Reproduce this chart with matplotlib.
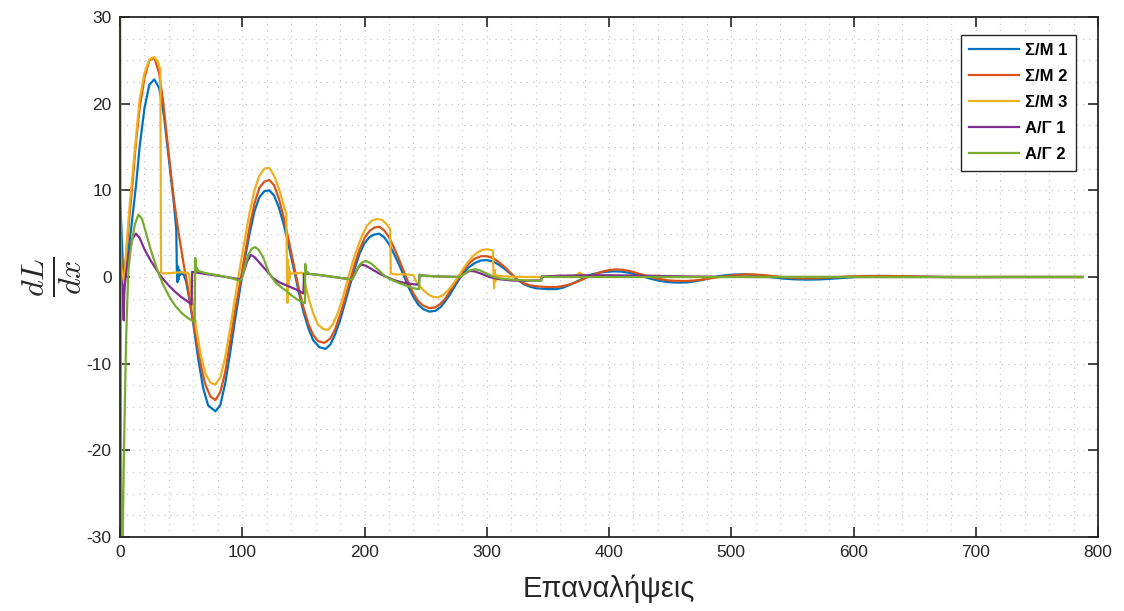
import matplotlib
matplotlib.use("Agg")
import matplotlib.pyplot as plt
from matplotlib.ticker import MultipleLocator

# ---- data (iteration, dL/dx) ----
sm1_x = [0, 1, 2, 3, 4, 6, 9, 11, 13, 16, 20, 24, 28, 32, 36, 40, 44, 46,
         46.5, 47, 47.5, 48, 48.5, 49, 50, 52, 54, 57, 60, 64, 68, 72, 78, 82, 86, 90, 94, 98,
         102, 106, 110, 114, 118, 122, 126, 130, 134, 138, 142, 146, 150, 154, 158, 163,
         168, 172, 176, 180, 184, 188, 192, 196, 200, 204, 208, 212, 216, 220, 224, 228,
         232, 236, 240, 244, 248, 253, 258, 262, 266, 270, 275, 280, 285, 290, 295, 300,
         305, 310, 315, 320, 325, 330, 335, 340, 345, 350, 357, 362, 368, 374, 380, 386,
         392, 398, 404, 410, 416, 422, 428, 434, 440, 446, 452, 458, 464, 470, 476, 482,
         488, 495, 502, 510, 518, 526, 534, 542, 552, 562, 572, 582, 592, 602, 615, 630,
         645, 660, 680, 700, 730, 787]
sm1_y = [8.5, 6.0, 2.4, -2.5, 0.0, 2.0, 5.5, 8.0, 10.5, 15.0, 19.5, 22.2, 22.8, 21.8,
         18.5, 13.5, 8.5, 5.5,
         0.5, -0.6, 1.2, -0.3, 0.8, 0.2, 0.4, 0.3, -0.5, -2.8, -5.5, -9.5, -12.8, -14.8,
         -15.5, -14.8, -12.3, -8.8, -5.0, -1.5,
         2.0, 5.0, 7.6, 9.2, 9.9, 10.0, 9.4, 8.0, 6.0, 3.6, 1.0, -1.6, -4.0, -5.9, -7.3,
         -8.1, -8.3, -7.8, -6.6, -5.0, -3.0, -1.0, 1.0, 2.7, 3.9, 4.6, 4.9, 5.0, 4.6, 3.8,
         2.7, 1.5, 0.2, -1.2, -2.3, -3.2, -3.7, -4.0, -3.9, -3.5, -2.8, -2.0, -0.8, 0.3,
         1.1, 1.6, 1.9, 1.95, 1.8, 1.4, 0.9, 0.3, -0.3, -0.8, -1.1, -1.3, -1.35, -1.4, -1.4,
         -1.25, -0.9, -0.5, -0.1, 0.3, 0.5, 0.6, 0.65, 0.62, 0.5, 0.3, 0.05, -0.2, -0.4,
         -0.55, -0.63, -0.65, -0.62, -0.5, -0.35, -0.15, 0.05, 0.2, 0.28, 0.3, 0.25, 0.12,
         -0.05, -0.18, -0.27, -0.3, -0.28, -0.2, -0.1, 0.0, 0.08, 0.1, 0.07, 0.02, -0.02,
         -0.02, 0.0, 0.0]

sm2_x = [0, 1, 2, 3, 5, 8, 10, 13, 16, 20, 24, 28, 32, 35, 40, 44, 48, 52, 55, 58, 61,
         64, 67, 70, 74, 78, 82, 86, 90, 94, 98, 102, 106, 110, 114, 118, 122, 126, 130,
         134, 138, 142, 146, 150, 154, 158, 162, 167, 172, 176, 180, 184, 188, 192, 196,
         200, 204, 208, 212, 216, 220, 224, 228, 232, 236, 240, 244, 248, 253, 258, 262,
         266, 270, 275, 280, 285, 290, 295, 300, 305, 310, 315, 320, 325, 330, 335, 340,
         345, 350, 357, 362, 368, 374, 382, 388, 394, 400, 406, 412, 418, 424, 430, 436,
         442, 448, 454, 463, 470, 476, 482, 488, 495, 502, 512, 520, 528, 536, 544, 552,
         560, 568, 578, 588, 598, 610, 625, 640, 655, 670, 690, 720, 787]
sm2_y = [6.5, 1.5, 0.3, 0.2, 2.5, 7.5, 10.5, 15.5, 19.5, 23.0, 25.0, 25.3, 23.5, 20.5,
         14.0, 9.0, 5.0, 1.5, -0.8, -3.5, -6.0, -8.5, -10.8, -12.5, -13.8, -14.2, -13.3,
         -11.0, -7.5, -4.0, -0.8, 2.5, 5.8, 8.5, 10.3, 11.0, 11.2, 10.6, 9.0, 6.8, 4.2,
         1.5, -1.2, -3.5, -5.4, -6.7, -7.4, -7.6, -7.1, -6.0, -4.4, -2.5, -0.5, 1.5, 3.2,
         4.5, 5.3, 5.7, 5.8, 5.4, 4.6, 3.4, 2.1, 0.7, -0.7, -1.9, -2.8, -3.3, -3.6, -3.5,
         -3.1, -2.5, -1.6, -0.5, 0.6, 1.5, 2.1, 2.4, 2.4, 2.2, 1.7, 1.1, 0.4, -0.3, -0.7,
         -0.95, -1.05, -1.12, -1.15, -1.15, -1.05, -0.85, -0.55, -0.05, 0.3, 0.6, 0.8, 0.88,
         0.82, 0.65, 0.4, 0.15, -0.08, -0.25, -0.38, -0.44, -0.46, -0.4, -0.3, -0.17, -0.03,
         0.1, 0.2, 0.3, 0.28, 0.2, 0.08, -0.04, -0.12, -0.16, -0.15, -0.08, 0.0, 0.07, 0.12,
         0.13, 0.1, 0.05, 0.01, -0.01, 0.0, 0.0]

sm3_x = [0, 1, 2, 3, 4, 5, 8, 10, 13, 16, 20, 24, 28, 31, 33, 33.5, 35, 40, 45, 50, 55,
         56.5, 58, 60, 63, 66, 70, 74, 78, 82, 86, 90, 94, 98, 102, 106, 110, 114, 118,
         122, 126, 130, 134, 136, 136.6, 137, 137.3, 137.6, 138, 138.5, 139, 140, 145,
         149, 150, 152, 155, 158, 162, 166, 170, 174, 178, 182, 186, 190, 194, 198, 202,
         206, 210, 214, 218, 221, 221.5, 225, 230, 235, 240, 242, 245, 248, 252, 256, 260,
         264, 268, 272, 276, 280, 284, 288, 292, 296, 300, 304, 305, 305.5, 306, 306.5,
         307, 308, 310, 320, 330, 345, 360, 372, 376, 380, 400, 450, 550, 787]
sm3_y = [6.2, 1.0, 0.3, -0.8, 0.5, 3.0, 8.5, 11.5, 16.0, 20.5, 23.5, 25.1, 25.4, 24.8,
         23.9, 0.6, 0.4, 0.45, 0.5, 0.55, 0.5, 0.3, -1.5, -3.5, -6.5, -9.0, -11.2, -12.2,
         -12.4, -11.6, -9.3, -6.0, -2.5, 1.0, 4.3, 7.5, 10.0, 11.7, 12.5, 12.6, 11.7, 10.2,
         8.2, 7.3, 0.5, -3.0, 2.0, -1.0, 1.2, -0.3, 0.6, 0.4, 0.45, 0.5, 0.2, -1.2, -2.8,
         -4.2, -5.5, -6.0, -6.1, -5.5, -4.2, -2.5, -0.4, 1.6, 3.3, 4.8, 5.9, 6.5, 6.7, 6.6,
         6.1, 5.5, 0.4, 0.3, 0.3, 0.3, 0.2, -0.5, -1.0, -1.5, -2.0, -2.3, -2.35, -2.1, -1.6,
         -0.9, -0.1, 0.8, 1.6, 2.3, 2.8, 3.1, 3.2, 3.1, 3.05, 0.3, -1.3, 0.8, -0.5, 0.2, 0.1,
         0.05, 0.0, 0.0, 0.05, 0.1, 0.5, 0.05, 0.02, 0.0, 0.0, 0.0]

ag1_x = [0, 1, 2, 3, 3.5, 5, 7, 10, 13, 16, 20, 25, 30, 35, 40, 45, 50, 55, 58.5, 59,
         65, 75, 85, 95, 99, 101, 104, 107, 110, 115, 120, 125, 130, 135, 140, 145, 150,
         150.5, 155, 165, 175, 185, 190, 192, 195, 197.5, 201, 206, 212, 218, 224, 230,
         236, 241, 244.5, 245, 255, 265, 278, 282, 286, 290, 296, 302, 310, 320, 330, 340,
         344.5, 345, 360, 380, 400, 430, 470, 520, 787]
ag1_y = [0.8, -0.3, -1.0, -5.0, -1.5, 0.5, 2.5, 4.4, 5.0, 4.5, 3.2, 1.9, 0.8, -0.2, -1.0,
         -1.7, -2.3, -2.8, -3.15, 0.6, 0.45, 0.25, 0.05, -0.2, -0.3, 0.5, 1.8, 2.55, 2.3,
         1.5, 0.7, -0.1, -0.6, -0.9, -1.2, -1.5, -1.9, 0.4, 0.35, 0.2, 0.0, -0.2, -0.25,
         0.3, 1.1, 1.45, 1.3, 0.9, 0.4, 0.0, -0.35, -0.6, -0.75, -0.85, -0.9, 0.2, 0.1,
         0.05, 0.0, 0.4, 0.7, 0.65, 0.35, 0.0, -0.25, -0.4, -0.45, -0.4, -0.4, 0.05, 0.15,
         0.2, 0.2, 0.15, 0.05, 0.0, 0.0]

ag2_x = [0, 1, 2, 3, 4, 5, 6, 7, 9, 12, 15, 18, 21, 25, 30, 35, 40, 45, 50, 55, 60, 61,
         61.5, 62.5, 63, 64, 70, 80, 90, 98, 100, 102, 105, 108, 110.5, 113, 117, 122, 127,
         132, 136, 140, 145, 150, 151.3, 151.5, 152.5, 153, 155, 165, 175, 185, 190, 192,
         195, 198, 201, 205, 210, 215, 220, 225, 230, 235, 240, 244.5, 245, 246, 255, 265,
         278, 282, 286, 290, 294, 300, 306, 312, 320, 330, 340, 344.5, 345, 350, 787]
ag2_y = [35, -35, -32, -22, -14, -7, -2.5, 1.0, 3.5, 6.0, 7.2, 6.7, 5.2, 3.2, 1.0, -0.8,
         -2.2, -3.3, -4.1, -4.7, -5.1, -5.2, 2.2, 0.6, 1.0, 0.7, 0.45, 0.2, -0.1, -0.45,
         -0.1, 1.2, 2.6, 3.3, 3.45, 3.2, 2.3, 0.4, -0.6, -1.2, -1.6, -2.1, -2.6, -2.95,
         -3.0, 1.5, 0.4, 0.6, 0.35, 0.2, 0.0, -0.2, -0.3, 0.3, 1.2, 1.7, 1.85, 1.6, 1.0,
         0.3, -0.2, -0.5, -0.8, -1.05, -1.3, -1.4, 0.3, 0.15, 0.1, 0.05, 0.0, 0.4, 0.75,
         0.9, 0.8, 0.4, 0.0, -0.2, -0.3, -0.38, -0.42, -0.45, 0.05, 0.0, 0.0]

series = [
    ("Σ/M 1", sm1_x, sm1_y, "#0072BD"),
    ("Σ/M 2", sm2_x, sm2_y, "#D95319"),
    ("Σ/M 3", sm3_x, sm3_y, "#EDB120"),
    ("Α/Γ 1", ag1_x, ag1_y, "#7E2F8E"),
    ("Α/Γ 2", ag2_x, ag2_y, "#77AC30"),
]

plt.rcParams["font.family"] = ["Liberation Sans", "DejaVu Sans"]
plt.rcParams["mathtext.fontset"] = "cm"
plt.rcParams["axes.unicode_minus"] = False
INK = "#262626"

fig = plt.figure(figsize=(11.24, 6.11), dpi=100)
ax = fig.add_axes([0.1068, 0.1211, 0.8701, 0.8511])

for name, xs, ys, col in series:
    ax.plot(xs, ys, color=col, lw=1.6, label=name)

ax.set_xlim(0, 800); ax.set_ylim(-30, 30)
ax.xaxis.set_major_locator(MultipleLocator(100))
ax.yaxis.set_major_locator(MultipleLocator(10))
ax.xaxis.set_minor_locator(MultipleLocator(20))
ax.yaxis.set_minor_locator(MultipleLocator(2.5))
ax.grid(which="both", color="#c8c8c8", ls=(0, (1, 4)), lw=0.9)
ax.set_axisbelow(True)
ax.tick_params(which="major", direction="in", length=7, width=1.2, top=True, right=True,
               labelsize=12.5, colors=INK, pad=6)
ax.tick_params(which="minor", length=0)
for sp in ax.spines.values():
    sp.set_color(INK); sp.set_linewidth(1.3)

ax.set_xlabel("Επαναλήψεις", fontsize=21, color=INK, labelpad=10)
ax.set_ylabel(r"$\frac{dL}{dx}$", fontsize=33, color=INK, labelpad=2)

leg = ax.legend(loc="upper right", bbox_to_anchor=(0.9775, 0.9654), borderaxespad=0,
                prop={"weight": "bold", "size": 12}, handlelength=3.0, handletextpad=0.35,
                labelspacing=0.66, fancybox=False, framealpha=1, edgecolor=INK,
                borderpad=0.5)
leg.get_frame().set_linewidth(1.0)

fig.savefig("out.png", dpi=100)
